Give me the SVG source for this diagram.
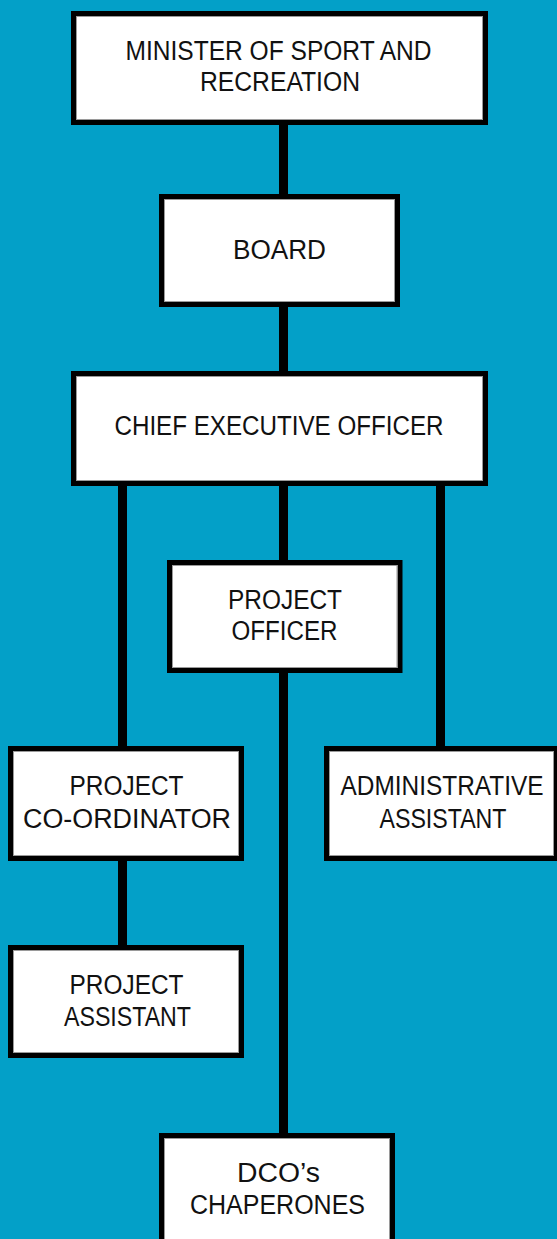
<svg xmlns="http://www.w3.org/2000/svg" width="557" height="1239" viewBox="0 0 557 1239">
  <style>
    .box { fill: #ffffff; stroke: #000000; stroke-width: 5; }
    .edge { fill: none; stroke: #9a9a9a; stroke-width: 1; }
    .link { stroke: #000000; stroke-width: 9; fill: none; }
    .label { font-family: "Century Gothic", "Liberation Sans", Arial, sans-serif; font-size: 27px; fill: #111111; text-anchor: middle; }
  </style>
  <rect x="0" y="0" width="557" height="1239" fill="#03a0c8"/>

  <!-- reporting lines -->
  <g id="connectors">
    <line class="link" x1="283.5" y1="120" x2="283.5" y2="199"/>
    <line class="link" x1="283.5" y1="302" x2="283.5" y2="376"/>
    <line class="link" x1="283.5" y1="481" x2="283.5" y2="565"/>
    <line class="link" x1="283.5" y1="668" x2="283.5" y2="1138"/>
    <line class="link" x1="122.5" y1="481" x2="122.5" y2="751"/>
    <line class="link" x1="122.5" y1="856" x2="122.5" y2="950"/>
    <line class="link" x1="440.5" y1="481" x2="440.5" y2="751"/>
  </g>

  <g id="minister">
    <rect class="box" x="73.5" y="13.5" width="412" height="109"/>
    <rect class="edge" x="76.5" y="16.5" width="406" height="103"/>
    <text class="label" x="278.5" y="59.5" textLength="306" lengthAdjust="spacingAndGlyphs">MINISTER OF SPORT AND</text>
    <text class="label" x="280" y="90.5" textLength="160" lengthAdjust="spacingAndGlyphs">RECREATION</text>
  </g>

  <g id="board">
    <rect class="box" x="161.5" y="196.5" width="236" height="108"/>
    <rect class="edge" x="164.5" y="199.5" width="230" height="102"/>
    <text class="label" x="279.5" y="259" textLength="93" lengthAdjust="spacingAndGlyphs">BOARD</text>
  </g>

  <g id="ceo">
    <rect class="box" x="73.5" y="373.5" width="412" height="110"/>
    <rect class="edge" x="76.5" y="376.5" width="406" height="104"/>
    <text class="label" x="279" y="435" textLength="329" lengthAdjust="spacingAndGlyphs">CHIEF EXECUTIVE OFFICER</text>
  </g>

  <g id="project-officer">
    <rect class="box" x="169.5" y="562.5" width="230.5" height="108"/>
    <rect class="edge" x="172.5" y="565.5" width="224.5" height="102"/>
    <text class="label" x="285" y="608.5" textLength="114" lengthAdjust="spacingAndGlyphs">PROJECT</text>
    <text class="label" x="284.5" y="640" textLength="106" lengthAdjust="spacingAndGlyphs">OFFICER</text>
  </g>

  <g id="project-coordinator">
    <rect class="box" x="10.5" y="748.5" width="231" height="110"/>
    <rect class="edge" x="13.5" y="751.5" width="225" height="104"/>
    <text class="label" x="126.5" y="795" textLength="114" lengthAdjust="spacingAndGlyphs">PROJECT</text>
    <text class="label" x="127" y="827.5" textLength="208" lengthAdjust="spacingAndGlyphs">CO-ORDINATOR</text>
  </g>

  <g id="administrative-assistant">
    <rect class="box" x="326.5" y="748.5" width="230" height="110"/>
    <rect class="edge" x="329.5" y="751.5" width="224" height="104"/>
    <text class="label" x="442" y="795" textLength="203" lengthAdjust="spacingAndGlyphs">ADMINISTRATIVE</text>
    <text class="label" x="443" y="827.5" textLength="127" lengthAdjust="spacingAndGlyphs">ASSISTANT</text>
  </g>

  <g id="project-assistant">
    <rect class="box" x="10.5" y="947.5" width="231" height="108"/>
    <rect class="edge" x="13.5" y="950.5" width="225" height="102"/>
    <text class="label" x="126.5" y="994" textLength="114" lengthAdjust="spacingAndGlyphs">PROJECT</text>
    <text class="label" x="127.5" y="1026" textLength="127" lengthAdjust="spacingAndGlyphs">ASSISTANT</text>
  </g>

  <g id="dco-chaperones">
    <rect class="box" x="161.5" y="1135.5" width="231" height="150"/>
    <rect class="edge" x="164.5" y="1138.5" width="225" height="144"/>
    <text class="label" x="278.5" y="1182" textLength="83" lengthAdjust="spacingAndGlyphs">DCO’s</text>
    <text class="label" x="277.5" y="1213.5" textLength="175" lengthAdjust="spacingAndGlyphs">CHAPERONES</text>
  </g>
</svg>
